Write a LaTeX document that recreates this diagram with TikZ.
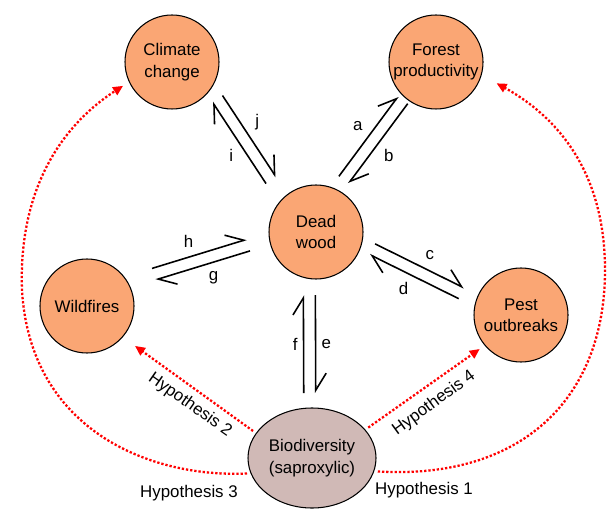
\documentclass[tikz,border=0pt]{standalone}
\usepackage{fontspec}
\setmainfont{Liberation Sans}
\usetikzlibrary{arrows.meta,calc,shapes.geometric}

\definecolor{woodorange}{RGB}{250,166,116}
\definecolor{bioshade}{RGB}{208,185,182}
\definecolor{hypred}{RGB}{255,0,0}

\tikzset{
  factor/.style={circle,draw=black,line width=0.6pt,fill=woodorange,minimum size=1.88cm,inner sep=-2pt,align=center},
  harp/.style={line width=0.9pt,-{Straight Barb[left,length=0.34cm,width=0.42cm]}},
  lbl/.style={midway,auto,inner sep=3pt},
  hyp/.style={hypred,line width=1.3pt,dash pattern=on 1.3pt off 1.1pt,-{Triangle[length=0.2cm,width=0.18cm]}}
}

\newcommand{\harpline}[3]{%
  \draw[harp] ($(#1)!0.12cm!90:(#2)$) -- node[lbl] {#3} ($(#2)!0.12cm!-90:(#1)$);}

\begin{document}
\begin{tikzpicture}[font=\fontsize{9.6}{12.2}\selectfont]
  \useasboundingbox (0,0) rectangle (12.22,10.16);
  \node[factor] (cc) at (3.44,8.92) {Climate\\change};
  \node[factor] (fp) at (8.72,8.92) {Forest\\productivity};
  \node[factor] (dw) at (6.32,5.52) {Dead\\wood};
  \node[factor] (wf) at (1.74,4.04) {Wildfires};
  \node[factor] (po) at (10.42,3.86) {Pest\\outbreaks};
  \node[ellipse,draw=black,line width=0.6pt,fill=bioshade,minimum width=2.56cm,minimum height=2.0cm,inner sep=0pt,align=center] (bd) at (6.24,1.0) {Biodiversity\\(saproxylic)};
  % ends of the paired arrows
  \coordinate (cc1) at ($(cc)+(-39:1.17)$);
  \coordinate (dw1) at ($(dw)+(131:1.37)$);
  \coordinate (fp2) at ($(fp)+(-131:1.01)$);
  \coordinate (dw2) at ($(dw)+(62:1.18)$);
  \coordinate (dw3) at ($(dw)+(-17:1.18)$);
  \coordinate (po3) at ($(po)+(160:1.27)$);
  \coordinate (dw4) at ($(dw)+(-96:1.27)$);
  \coordinate (bd4) at ($(bd)+(92:1.30)$);
  \coordinate (dw5) at ($(dw)+(191:1.38)$);
  \coordinate (wf5) at ($(wf)+(25.5:1.48)$);
  \harpline{cc1}{dw1}{j}
  \harpline{dw1}{cc1}{i}
  \harpline{dw2}{fp2}{a}
  \harpline{fp2}{dw2}{b}
  \harpline{dw3}{po3}{c}
  \harpline{po3}{dw3}{d}
  \harpline{dw4}{bd4}{e}
  \harpline{bd4}{dw4}{f}
  \harpline{wf5}{dw5}{h}
  \harpline{dw5}{wf5}{g}
  % hypotheses
  \draw[hyp,shorten <=2pt,shorten >=0.34cm] (bd.-12) .. controls (10.40,0.56) and (12.10,2.16) .. (12.10,4.76) .. controls (12.10,6.96) and (10.90,7.96) .. (fp.-16);
  \draw[hyp,shorten <=2pt,shorten >=0.14cm] (bd.194) .. controls (3.00,0.60) and (0.60,1.56) .. (0.44,4.36) .. controls (0.36,6.56) and (1.40,7.76) .. (cc.205);
  \draw[hyp,shorten <=2pt,shorten >=0.3cm] (bd.156) -- (wf.-41);
  \draw[hyp,shorten <=2pt,shorten >=0.12cm] (bd.28) -- (po.220);
  \node[rotate=-35] (h2) at (3.80,2.06) {Hypothesis 2};
  \node[rotate=36] (h4) at (8.68,2.10) {Hypothesis 4};
  \node (h3) at (3.78,0.30) {Hypothesis 3};
  \node (h1) at (8.48,0.36) {Hypothesis 1};
\end{tikzpicture}
\end{document}
